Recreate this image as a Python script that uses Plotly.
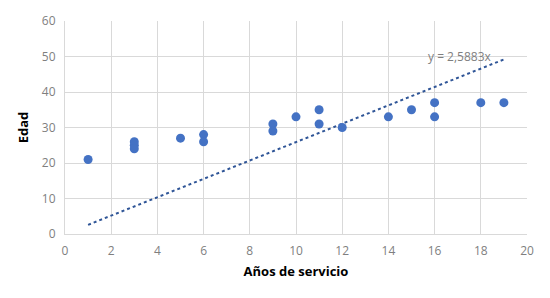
import plotly.graph_objects as go

anios = [1, 3, 3, 3, 5, 6, 6, 9, 9, 10, 11, 11, 12, 14, 15, 16, 16, 18, 19]
edad = [21, 26, 25, 24, 27, 28, 26, 31, 29, 33, 35, 31, 30, 33, 35, 37, 33, 37, 37]
pendiente = 2.5883
trend_x = [1, 19]
trend_y = [pendiente * v for v in trend_x]

fig = go.Figure()
fig.add_trace(go.Scatter(x=trend_x, y=trend_y, mode="lines",
                         line=dict(color="#2F5597", width=2, dash="dot"),
                         hoverinfo="skip", showlegend=False))
fig.add_trace(go.Scatter(x=anios, y=edad, mode="markers",
                         marker=dict(color="#4472C4", size=9),
                         showlegend=False))
fig.add_annotation(x=19, y=trend_y[1], text="y = 2,5883x", showarrow=False,
                   xanchor="right", yanchor="bottom", xshift=-10, yshift=-8,
                   font=dict(family="Open Sans", size=12, color="#7f7f7f"))

fig.update_layout(
    width=550, height=298,
    margin=dict(l=65, r=23, t=16, b=64),
    paper_bgcolor="white", plot_bgcolor="white",
    font=dict(family="Open Sans", size=12, color="#7f7f7f"),
    xaxis=dict(range=[0, 20], dtick=2, showgrid=True, gridcolor="#D9D9D9",
               zeroline=False, showline=True, linecolor="#D9D9D9",
               ticks="", ticklabelstandoff=6,
               title=dict(text="<b>Años de servicio</b>",
                          font=dict(color="black", size=13), standoff=8)),
    yaxis=dict(range=[0, 60], dtick=10, showgrid=True, gridcolor="#D9D9D9",
               zeroline=False, showline=True, linecolor="#D9D9D9",
               ticks="", ticklabelstandoff=6,
               title=dict(text="<b>Edad</b>",
                          font=dict(color="black", size=13), standoff=10)),
)
fig.write_html("out.html")
